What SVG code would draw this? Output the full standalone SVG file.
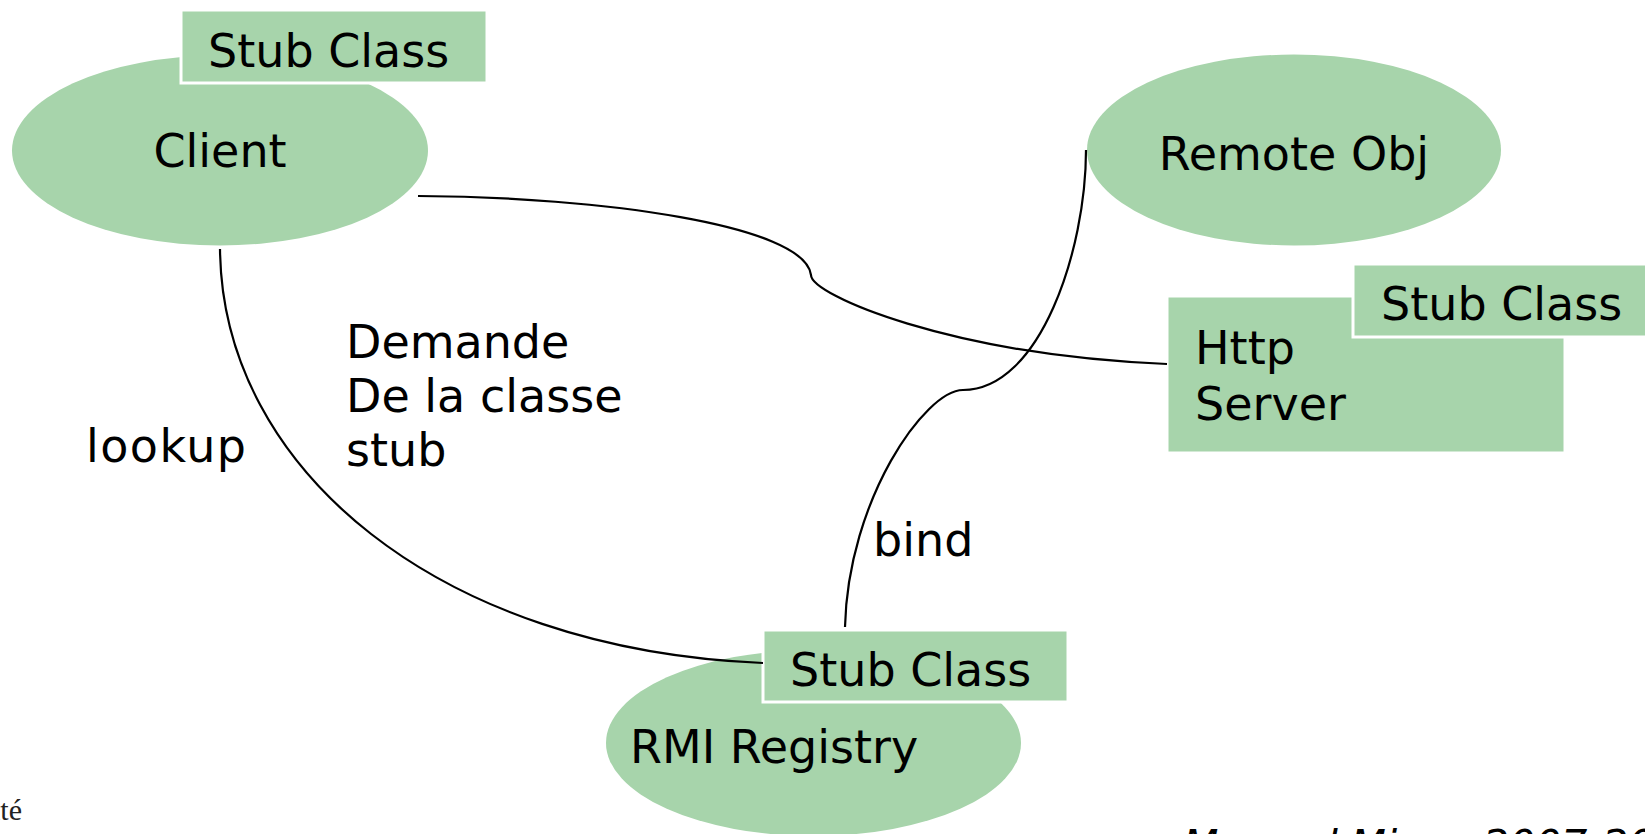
<svg xmlns="http://www.w3.org/2000/svg" width="1645" height="834" viewBox="0 0 1645 834">
  <style>
    .blob { fill: #a7d4ab; }
    .box { fill: #a7d4ab; stroke: #ffffff; stroke-width: 3; }
    .lbl { font-family: "DejaVu Sans", "Liberation Sans", sans-serif; font-size: 46px; fill: #000; }
    .wire { fill: none; stroke: #000; stroke-width: 2.2; }
    .foot { font-family: "DejaVu Sans", sans-serif; font-size: 41px; font-style: italic; fill: #000; }
    .uni { font-family: "Liberation Serif", serif; font-size: 30px; fill: #222; }
  </style>
  <rect width="1645" height="834" fill="#ffffff"/>

  <!-- Client with its stub class -->
  <g id="client">
    <ellipse class="blob" cx="220" cy="150.5" rx="208" ry="95"/>
    <text class="lbl" x="220" y="167" text-anchor="middle">Client</text>
    <rect class="box" x="181" y="10" width="306" height="73"/>
    <text class="lbl" x="208" y="67">Stub Class</text>
  </g>

  <!-- Remote object -->
  <g id="remote-obj">
    <ellipse class="blob" cx="1294" cy="150" rx="207" ry="95.5"/>
    <text class="lbl" x="1294" y="170" text-anchor="middle">Remote Obj</text>
  </g>

  <!-- HTTP server with its stub class -->
  <g id="http-server">
    <rect class="box" x="1167" y="296" width="398" height="157"/>
    <text class="lbl" x="1195" y="364">Http</text>
    <text class="lbl" x="1195" y="420">Server</text>
    <rect class="box" x="1353" y="264" width="300" height="73"/>
    <text class="lbl" x="1381" y="320">Stub Class</text>
  </g>

  <!-- RMI registry with its stub class -->
  <g id="rmi-registry">
    <ellipse class="blob" cx="813.5" cy="743" rx="207.5" ry="93"/>
    <text class="lbl" x="630" y="763">RMI Registry</text>
    <rect class="box" x="763" y="630" width="305" height="72"/>
    <text class="lbl" x="790" y="686">Stub Class</text>
  </g>

  <!-- Connectors -->
  <g id="connectors">
    <path class="wire" d="M418,196 C600,197 805,225 811,275 C811,295 950,355 1167,364"/>
    <path class="wire" d="M220,249 C222,470 440,650 763,663"/>
    <path class="wire" d="M1086,150 C1086,250 1040,390 963,390 C925,390 848,500 845,627"/>
  </g>

  <!-- Connector labels -->
  <g id="labels">
    <text class="lbl" x="86" y="462" textLength="160">lookup</text>
    <text class="lbl" x="346" y="358">Demande</text>
    <text class="lbl" x="346" y="412">De la classe</text>
    <text class="lbl" x="346" y="466">stub</text>
    <text class="lbl" x="873" y="556">bind</text>
  </g>

  <!-- Footer -->
  <g id="footer">
    <text class="uni" x="22" y="820" text-anchor="end">Université</text>
    <text class="foot" y="859"><tspan x="1183">Mourad Mirza</tspan><tspan x="1483">2007-2008</tspan></text>
  </g>
</svg>
